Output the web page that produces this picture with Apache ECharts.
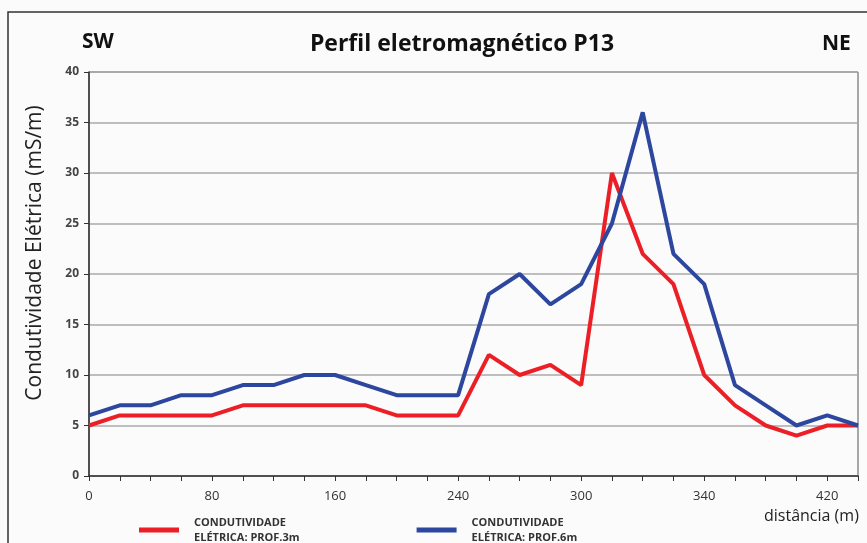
<!DOCTYPE html>
<html>
<head>
<meta charset="utf-8">
<script src="https://cdn.jsdelivr.net/npm/echarts@6/dist/echarts.min.js"></script>
<style>
  html, body { margin: 0; padding: 0; background: #fbfbfb; }
  #chart { width: 867px; height: 543px; }
</style>
</head>
<body>
<div id="chart"></div>
<script>
// distances along the profile (m), only every 4th one is labelled
const distancias = ['0', '20', '40', '60', '80', '100', '120', '140', '160', '180', '200', '220', '240',
  '255', '270', '285', '300', '310', '320', '330', '340', '360', '380', '400', '420', '440']
const prof3m = [5, 6, 6, 6, 6, 7, 7, 7, 7, 7, 6, 6, 6, 12, 10, 11, 9, 30, 22, 19, 10, 7, 5, 4, 5, 5]
const prof6m = [6, 7, 7, 8, 8, 9, 9, 10, 10, 9, 8, 8, 8, 18, 20, 17, 19, 25, 36, 22, 19, 9, 7, 5, 6, 5]
const yTicks = [0, 5, 10, 15, 20, 25, 30, 35, 40]

const font = "'Open Sans', 'Liberation Sans', sans-serif"
const chart = echarts.init(document.getElementById('chart'))

chart.setOption({
  backgroundColor: '#fbfbfb',
  animation: false,
  graphic: [
    {
      type: 'rect',
      shape: { x: 8, y: 12, width: 900, height: 560 },
      style: { fill: 'none', stroke: '#333', lineWidth: 1.5 }
    },
    {
      type: 'text', x: 462, y: 44,
      style: { text: 'Perfil eletromagnético P13', font: 'bold 23px ' + font, fill: '#111', align: 'center', verticalAlign: 'middle' }
    },
    {
      type: 'text', left: 82, top: 32,
      style: { text: 'SW', font: 'bold 21px ' + font, fill: '#111' }
    },
    {
      type: 'text', left: 822, top: 34,
      style: { text: 'NE', font: 'bold 21px ' + font, fill: '#111' }
    },
    {
      type: 'text', left: 764, top: 508,
      style: { text: 'distância (m)', font: '16px ' + font, fill: '#222' }
    },
    {
      type: 'text', x: 35, y: 253, rotation: Math.PI / 2,
      style: { text: 'Condutividade Elétrica (mS/m)', font: '21px ' + font, fill: '#222', align: 'center', verticalAlign: 'middle' }
    }
  ],
  legend: {
    left: 134,
    top: 510,
    itemGap: 117,
    itemWidth: 40,
    itemHeight: 5,
    icon: 'rect',
    textStyle: { fontFamily: font, fontSize: 11, fontWeight: 'bold', color: '#333', lineHeight: 15, padding: [0, 0, 0, 10] },
    data: ['CONDUTIVIDADE\nELÉTRICA: PROF.3m', 'CONDUTIVIDADE\nELÉTRICA: PROF.6m']
  },
  grid: { left: 89, right: 9, top: 72, bottom: 67, show: true, borderColor: '#555', borderWidth: 1 },
  xAxis: {
    type: 'category',
    data: distancias,
    boundaryGap: false,
    axisLine: { lineStyle: { color: '#333', width: 1.5 } },
    axisTick: { interval: 0, length: 5, lineStyle: { color: '#333' } },
    axisLabel: { interval: 3, margin: 14, fontFamily: font, fontSize: 13, color: '#333' }
  },
  yAxis: {
    type: 'value',
    min: yTicks[0],
    max: yTicks[yTicks.length - 1],
    interval: 5,
    axisLine: { show: true, lineStyle: { color: '#333', width: 1.5 } },
    axisTick: { show: true, length: 5, lineStyle: { color: '#333' } },
    axisLabel: { margin: 10, fontFamily: font, fontSize: 12, fontWeight: 'bold', color: '#444' },
    splitLine: { lineStyle: { color: '#aaa', width: 1.5 } }
  },
  series: [
    {
      name: 'CONDUTIVIDADE\nELÉTRICA: PROF.3m',
      type: 'line',
      data: prof3m,
      symbol: 'none',
      color: '#ec1f26',
      lineStyle: { width: 4, color: '#ec1f26' }
    },
    {
      name: 'CONDUTIVIDADE\nELÉTRICA: PROF.6m',
      type: 'line',
      data: prof6m,
      symbol: 'none',
      color: '#2c479d',
      lineStyle: { width: 4, color: '#2c479d' }
    }
  ]
})
</script>
</body>
</html>
